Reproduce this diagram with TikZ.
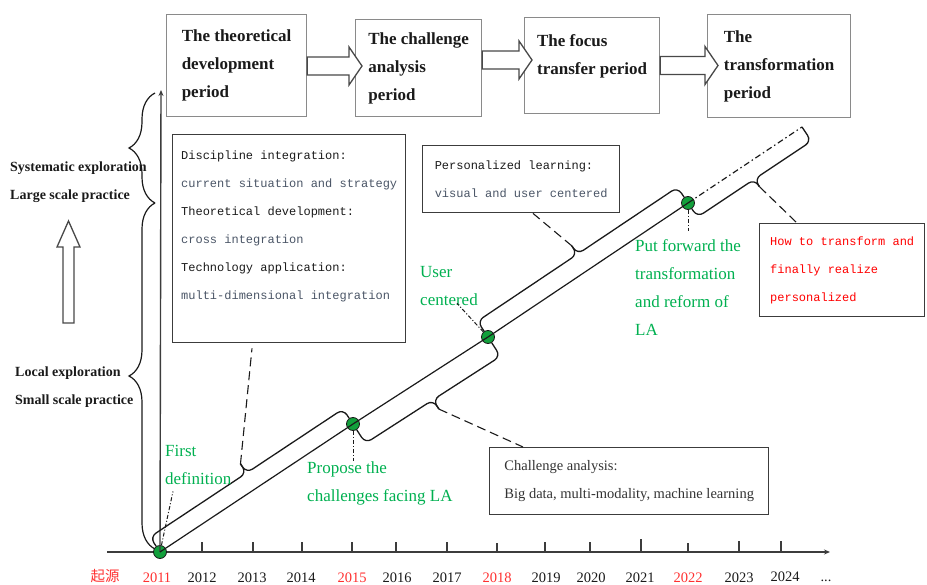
\documentclass[tikz,border=0pt]{standalone}
\usepackage{fontspec}
\setmainfont{Liberation Serif}
\setmonofont{Liberation Mono}
\newfontfamily\cjkfont{Noto Sans CJK SC}
\usetikzlibrary{arrows.meta,calc,decorations.pathreplacing}
\definecolor{ink}{HTML}{1A1A1A}
\definecolor{frame}{HTML}{8A8A8A}
\definecolor{slate}{HTML}{4A5566}
\definecolor{prose}{HTML}{333333}
\definecolor{leaf}{HTML}{00B050}
\definecolor{dotfill}{HTML}{12A03C}
\definecolor{alert}{HTML}{FF0000}
\definecolor{year}{HTML}{FF3030}
\tikzset{
  stagebox/.style={anchor=north west, draw=frame, line width=1.2pt, align=left, inner sep=0pt, text=ink, font=\fontsize{17}{28}\selectfont\bfseries},
  notebox/.style={anchor=north west, draw=ink!85, line width=1.4pt, align=left, inner sep=0pt, font=\ttfamily\fontsize{12}{28}\selectfont},
  prosebox/.style={anchor=north west, draw=ink!85, line width=1.4pt, align=left, inner sep=0pt, text=prose, font=\fontsize{14.5}{28}\selectfont},
  blockarrow/.style={draw=ink!80, line width=1.3pt, fill=white, line join=miter},
  axis/.style={draw=ink!85, line width=1.4pt, -{Stealth[length=6pt,width=5pt]}},
  yeartick/.style={draw=ink!85, line width=1.2pt},
  yearlabel/.style={anchor=base, inner sep=0pt, text=ink, font=\fontsize{14.5}{16}\selectfont},
  keydot/.style={circle, draw=ink, line width=0.8pt, fill=dotfill, minimum size=13pt, inner sep=0pt},
  mainline/.style={draw=ink, line width=1.2pt},
  futureline/.style={draw=ink, line width=1.2pt, dash pattern=on 6pt off 3pt on 1.5pt off 3pt},
  bracepath/.style={draw=ink, line width=1.3pt, rounded corners=7pt},
  sidebrace/.style={draw=ink, line width=1.2pt, decorate, decoration={brace, amplitude=26pt}},
  leader/.style={draw=ink, line width=1.1pt, dash pattern=on 9pt off 5pt},
  pointer/.style={draw=ink, line width=1pt, dash pattern=on 4pt off 2pt on 1pt off 2pt},
  milestone/.style={anchor=west, align=left, inner sep=0pt, text=leaf, font=\fontsize{17}{28}\selectfont},
  sidelabel/.style={anchor=west, align=left, inner sep=0pt, text=ink, font=\fontsize{14}{28}\selectfont\bfseries}
}
% hollow arrow between two period boxes: tail point, tip point
\newcommand\stagearrow[2]{%
  \draw[blockarrow] ($(#1)+(0,-9)$) -- ($(#2)+(-13,-9)$) -- ($(#2)+(-13,-19)$)
    -- (#2) -- ($(#2)+(-13,19)$) -- ($(#2)+(-13,9)$) -- ($(#1)+(0,9)$) -- cycle;}
% brace beside the time line: from, to, side (90/-90), offset, tip offset, tip name
\newcommand\linebrace[6]{%
  \coordinate (#6) at ($(#1)!.5!(#2)!#5!#3:(#2)$);
  \draw[bracepath] (#1) -- ($(#1)!#4!#3:(#2)$)
    -- ($(#1)!.5!(#2)!#4!#3:(#2)$) -- (#6);
  \draw[bracepath] (#2) -- ($(#2)!#4!180+#3:(#1)$)
    -- ($(#1)!.5!(#2)!#4!#3:(#2)$) -- (#6);}

\begin{document}
\begin{tikzpicture}[x=1pt,y=-1pt]
\useasboundingbox (0,0) rectangle (927,585);

% Periods
\node[stagebox, minimum width=140pt, minimum height=102pt] (s1) at (166,14) {The theoretical\\development\\period};
\node[stagebox, minimum width=126pt, minimum height=97pt] (s2) at (355,19) {The challenge\\analysis\\period};
\node[stagebox, minimum width=135pt, minimum height=96pt] (s3) at (524,17) {The focus\\transfer period\\[-6pt]\mbox{}};
\node[stagebox, minimum width=143pt, minimum height=103pt] (s4) at (707,14) {The\\transformation\\period};

\coordinate (a1) at (s1.east |- 0,66);
\coordinate (a1t) at ($(s2.west |- 0,66)+(7,0)$);
\coordinate (a2) at (s2.east |- 0,60);
\coordinate (a2t) at ($(s3.west |- 0,60)+(8,0)$);
\coordinate (a3) at (s3.east |- 0,65.5);
\coordinate (a3t) at ($(s4.west |- 0,65.5)+(11,0)$);
\stagearrow{a1}{a1t}
\stagearrow{a2}{a2t}
\stagearrow{a3}{a3t}

% Left scale
\node[sidelabel] (hi) at (10,182) {Systematic exploration\\Large scale practice};
\node[sidelabel] (lo) at (15,387) {Local exploration\\Small scale practice};
\draw[blockarrow] (63,323) -- (63,247) -- (57,247) -- (68.5,221) -- (80,247) -- (74,247) -- (74,323) -- cycle;
\coordinate (b0) at (155,549);
\coordinate (b1) at (155,203);
\coordinate (b2) at (155,93);
\draw[sidebrace] (b1) -- (b2);
\draw[sidebrace] (b0) -- (b1);

% Notes
\node[notebox, minimum width=233pt, minimum height=208pt] (disc) at (172,134) {%
  \textcolor{ink}{Discipline integration:}\\
  \textcolor{slate}{current situation and strategy}\\
  \textcolor{ink}{Theoretical development:}\\
  \textcolor{slate}{cross integration}\\
  \textcolor{ink}{Technology application:}\\
  \textcolor{slate}{multi-dimensional integration}\\\mbox{}};
\node[notebox, minimum width=197pt, minimum height=67pt] (pers) at (422,145) {%
  \textcolor{ink}{Personalized learning:}\\
  \textcolor{slate}{visual and user centered}};
\node[notebox, minimum width=165pt, minimum height=93pt, text=alert] (how) at (759,223) {How to transform and\\finally realize\\personalized};
\node[prosebox, minimum width=279pt, minimum height=67pt] (chal) at (489,447) {Challenge analysis:\\Big data, multi-modality, machine learning};

% Axes
\coordinate (xfrom) at (107,552);
\coordinate (xto) at (830,552);
\coordinate (yto) at (161,90);
\draw[axis] (xfrom) -- (xto);

\draw[yeartick] (202,552) -- (202,542);
\draw[yeartick] (253,552) -- (253,542);
\draw[yeartick] (302,552) -- (302,542);
\draw[yeartick] (352,552) -- (352,542);
\draw[yeartick] (396,552) -- (396,542);
\draw[yeartick] (447,552) -- (447,542);
\draw[yeartick] (497,552) -- (497,543);
\draw[yeartick] (545,552) -- (545,542);
\draw[yeartick] (590,552) -- (590,542);
\draw[yeartick] (641,552) -- (641,539);
\draw[yeartick] (688,552) -- (688,543);
\draw[yeartick] (739,552) -- (739,541);
\draw[yeartick] (781,552) -- (781,541);

\node[yearlabel, text=year, font=\cjkfont\fontsize{14.5}{16}\selectfont] (y0) at (105,581) {起源};
\node[yearlabel, text=year] (y11) at (157,582) {2011};
\node[yearlabel] (y12) at (202,582) {2012};
\node[yearlabel] (y13) at (252,582) {2013};
\node[yearlabel] (y14) at (301,582) {2014};
\node[yearlabel, text=year] (y15) at (352,582) {2015};
\node[yearlabel] (y16) at (397,582) {2016};
\node[yearlabel] (y17) at (447,582) {2017};
\node[yearlabel, text=year] (y18) at (497,582) {2018};
\node[yearlabel] (y19) at (546,582) {2019};
\node[yearlabel] (y20) at (591,582) {2020};
\node[yearlabel] (y21) at (640,582) {2021};
\node[yearlabel, text=year] (y22) at (688,582) {2022};
\node[yearlabel] (y23) at (739,582) {2023};
\node[yearlabel] (y24) at (785,581) {2024};
\node[yearlabel] (ymore) at (826,581) {...};

% Time line and key points
\node[keydot] (d11) at (160,552) {};
\node[keydot] (d15) at (353,424) {};
\node[keydot] (d18) at (488,337) {};
\node[keydot] (d22) at (688,203) {};
\coordinate (tend) at (802,127);

\draw[axis] (d11.center) -- (yto);
\draw[mainline] (d11.center) -- (d15.center) -- (d18.center) -- (d22.center);
\draw[futureline] (d22.center) -- (tend);

\linebrace{d11}{d15}{90}{18pt}{29pt}{tip1}
\linebrace{d15}{d18}{-90}{23pt}{34pt}{tip2}
\linebrace{d18}{d22}{90}{19pt}{29pt}{tip3}
\linebrace{d22}{tend}{-90}{17pt}{26pt}{tip4}

\draw[leader] (tip1) -- ($(disc.south west)+(80,5)$);
\draw[leader] (tip2) -- ($(chal.north west)+(34,0)$);
\draw[leader] (tip3) -- ($(pers.south west)+(111,0)$);
\draw[leader] (tip4) -- ($(how.north west)+(38,0)$);

% Milestones
\node[milestone] (lfirst) at (165,464.5) {First\\definition};
\node[milestone] (lprop) at (307,483) {Propose the\\challenges facing LA};
\node[milestone] (luser) at (420,286.5) {User\\centered};
\node[milestone] (lput) at (635,287.5) {Put forward the\\transformation\\and reform of\\LA};

\draw[pointer] (d11) -- ($(lfirst.south west)+(8,7)$);
\draw[pointer] (d15) -- (d15 |- lprop.north);
\draw[pointer] (d18) -- ($(luser.south west)+(37,-3)$);
\draw[pointer] (d22) -- ($(d22 |- lput.north)+(0,-8)$);

\end{tikzpicture}
\end{document}
